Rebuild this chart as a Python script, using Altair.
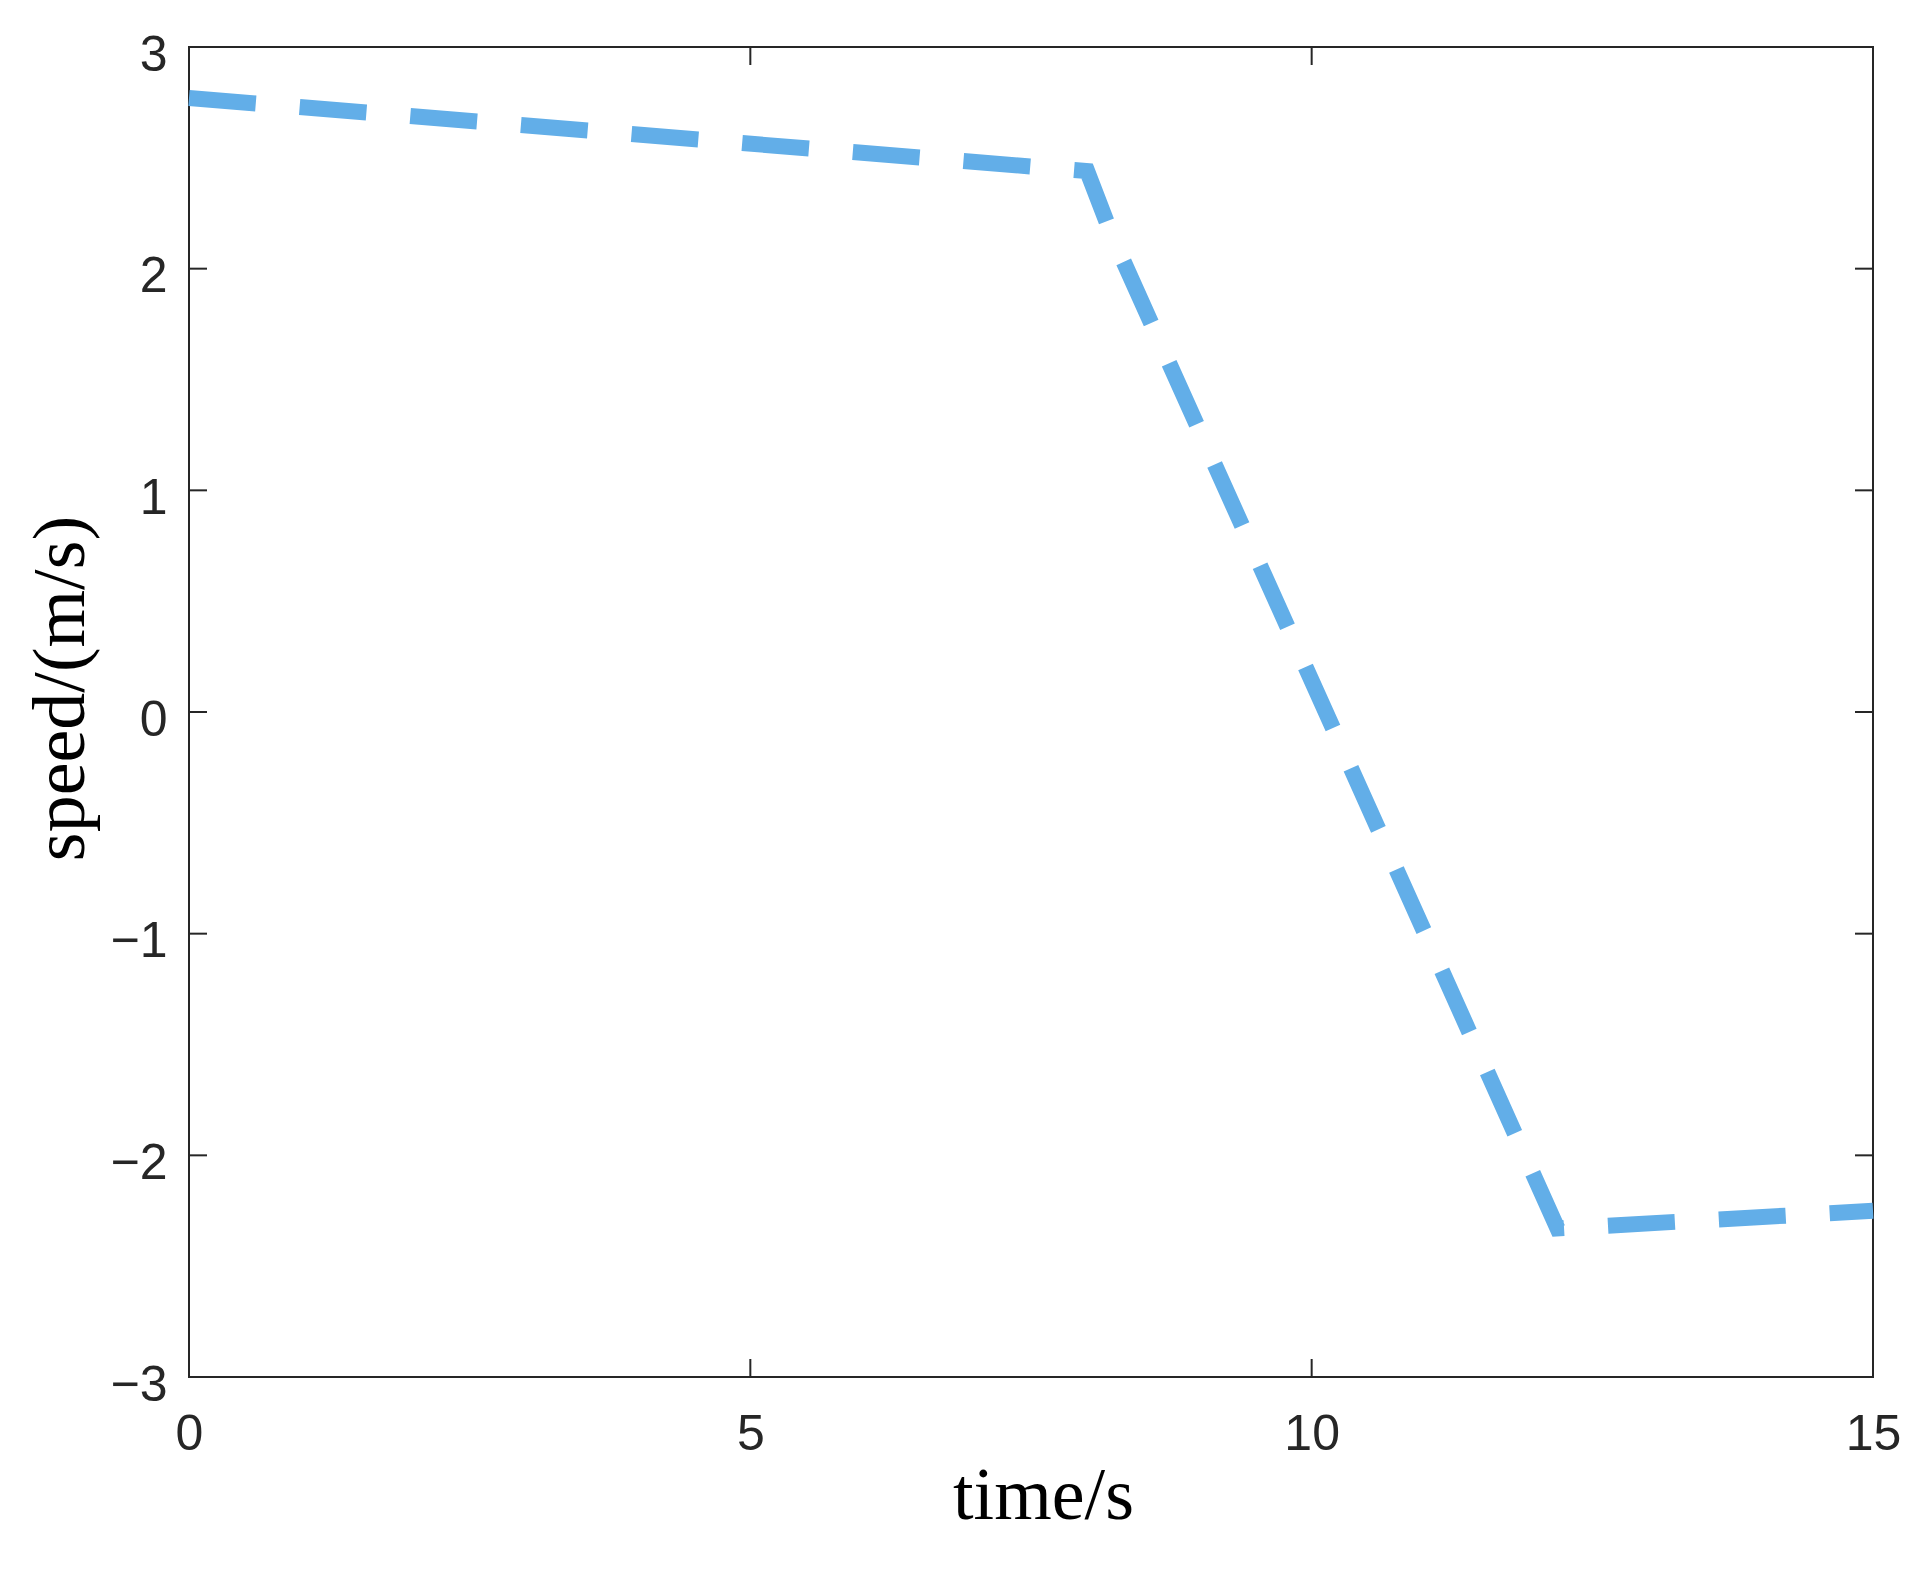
import altair as alt
import pandas as pd

# data
time_s = [0.0, 8.0, 8.22, 12.19, 15.0]
speed = [2.77, 2.44, 2.15, -2.33, -2.25]

x_ticks = [0, 5, 10, 15]
y_ticks = [-3, -2, -1, 0, 1, 2, 3]

W, H = 1684, 1330
TICK = 18
AXIS_COLOR = "#262626"
LINE_COLOR = "#62AEE8"

df = pd.DataFrame({"t": time_s, "v": speed})
dx = pd.DataFrame({"t": x_ticks})
dy = pd.DataFrame({"v": y_ticks})

xscale = alt.Scale(domain=[0, 15], nice=False, zero=False)
yscale = alt.Scale(domain=[-3, 3], nice=False, zero=False)

xaxis = alt.Axis(
    values=x_ticks, format="d", grid=False, domain=False, ticks=False, tickSize=0,
    labelFont="Liberation Sans", labelFontSize=50, labelColor=AXIS_COLOR,
    labelPadding=32, labelFlush=False, labelOverlap=False,
    title="time/s", titleFont="Liberation Serif", titleFontSize=74,
    titleFontWeight="normal", titleColor="#000000",
    titleX=854, titleY=141, titleAlign="center", titleBaseline="alphabetic",
)
yaxis = alt.Axis(
    values=y_ticks, format="d", grid=False, domain=False, ticks=False, tickSize=0,
    labelFont="Liberation Sans", labelFontSize=50, labelColor=AXIS_COLOR,
    labelPadding=22, labelOffset=8, labelOverlap=False,
    title="speed/(m/s)", titleFont="Liberation Serif", titleFontSize=74,
    titleFontWeight="normal", titleColor="#000000",
    titleX=-106, titleY=641, titleAngle=270, titleAlign="center",
    titleBaseline="alphabetic",
)

line = alt.Chart(df).mark_line(
    color=LINE_COLOR, strokeWidth=16, strokeDash=[67, 44], strokeCap="butt",
    strokeJoin="miter",
).encode(
    x=alt.X("t:Q", scale=xscale, axis=xaxis),
    y=alt.Y("v:Q", scale=yscale, axis=yaxis),
    order="t:Q",
)

tick_style = dict(color=AXIS_COLOR, strokeWidth=2)

left_ticks = alt.Chart(dy).mark_rule(**tick_style).encode(
    y=alt.Y("v:Q", scale=yscale), x=alt.value(0), x2=alt.value(TICK))
right_ticks = alt.Chart(dy).mark_rule(**tick_style).encode(
    y=alt.Y("v:Q", scale=yscale), x=alt.value(W - TICK), x2=alt.value(W))
bottom_ticks = alt.Chart(dx).mark_rule(**tick_style).encode(
    x=alt.X("t:Q", scale=xscale), y=alt.value(H - TICK), y2=alt.value(H))
top_ticks = alt.Chart(dx).mark_rule(**tick_style).encode(
    x=alt.X("t:Q", scale=xscale), y=alt.value(0), y2=alt.value(TICK))

chart = alt.layer(
    line, left_ticks, right_ticks, bottom_ticks, top_ticks
).properties(
    width=W, height=H,
    background="white",
    autosize=alt.AutoSizeParams(type="none"),
    padding={"left": 181, "top": 39, "right": 47, "bottom": 186},
).configure_view(
    stroke=AXIS_COLOR, strokeWidth=2, fill="white",
)

chart.save("out.html", embed_options={"renderer": "svg", "actions": False})
